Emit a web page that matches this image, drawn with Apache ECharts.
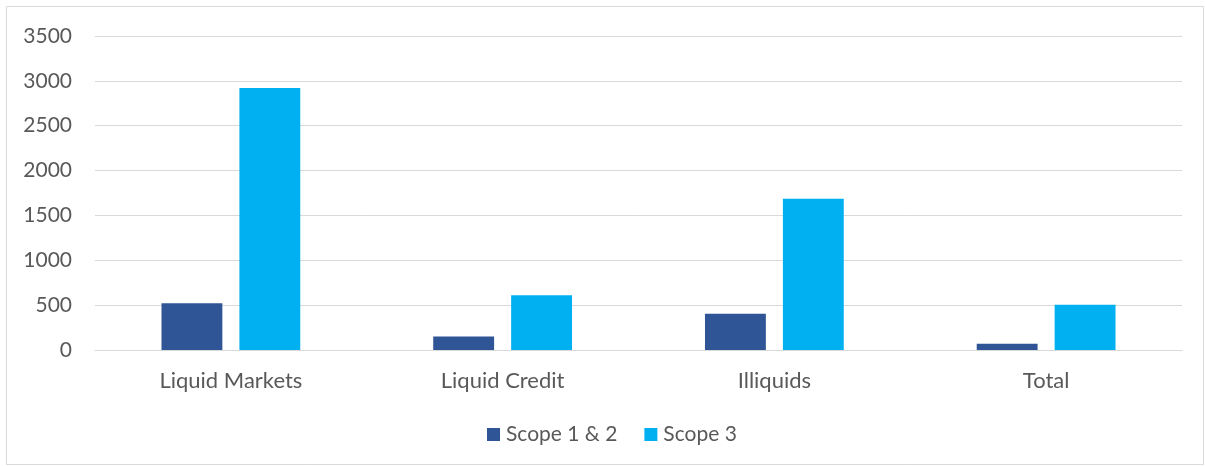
<!DOCTYPE html>
<html>
<head>
<meta charset="utf-8">
<script src="https://cdn.jsdelivr.net/npm/echarts@6/dist/echarts.min.js"></script>
<style>
html,body{margin:0;padding:0;background:#fff;}
#c{width:1205px;height:466px;}
</style>
</head>
<body>
<div id="c"></div>
<script>
const categories = ['Liquid Markets', 'Liquid Credit', 'Illiquids', 'Total'];
const scope12 = [520, 150, 405, 70];
const scope3 = [2920, 610, 1685, 505];
const seriesNames = ['Scope 1 & 2', 'Scope 3'];
const colors = ['#2F5597', '#00B0F0'];

const chart = echarts.init(document.getElementById('c'));
const font = 'Lato, "Open Sans", sans-serif';
chart.setOption({
  animation: false,
  color: colors,
  graphic: [{
    type: 'rect',
    shape: { x: 6.5, y: 6.5, width: 1197, height: 458 },
    style: { fill: 'none', stroke: '#d9d9d9', lineWidth: 1 },
    silent: true
  }],
  grid: { left: 95, right: 23, top: 36, bottom: 116, containLabel: false },
  legend: {
    bottom: 16,
    left: 482,
    itemWidth: 13,
    itemHeight: 13,
    itemGap: 27,
    icon: 'rect',
    textStyle: { color: '#595959', fontSize: 21, fontFamily: font, padding: [0, 0, 0, 1] },
    data: seriesNames
  },
  xAxis: {
    type: 'category',
    data: categories,
    axisLine: { lineStyle: { color: '#d9d9d9', width: 1 } },
    axisTick: { show: false },
    axisLabel: { color: '#595959', fontSize: 22, fontFamily: font, margin: 20 }
  },
  yAxis: {
    type: 'value',
    min: 0,
    max: 3500,
    interval: 500,
    axisLine: { show: false },
    axisTick: { show: false },
    splitLine: { lineStyle: { color: '#d9d9d9', width: 1 } },
    axisLabel: { color: '#595959', fontSize: 21, fontFamily: font, margin: 23, formatter: function (v) { return String(v); } }
  },
  series: [
    { name: seriesNames[0], type: 'bar', data: scope12, barWidth: '22.4%', barGap: '28%' },
    { name: seriesNames[1], type: 'bar', data: scope3, barWidth: '22.4%', barGap: '28%' }
  ]
});
</script>
</body>
</html>
